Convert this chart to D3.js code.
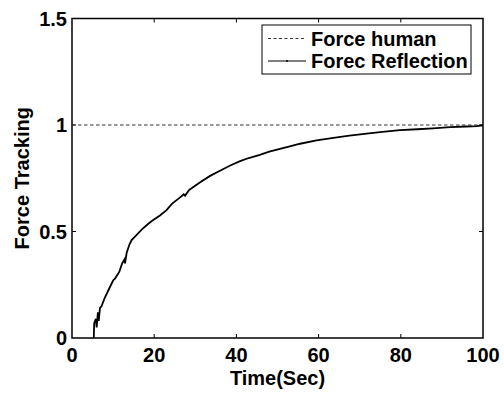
<!DOCTYPE html>
<html>
<head>
<meta charset="utf-8">
<script src="https://cdn.jsdelivr.net/npm/d3@7"></script>
<style>
  body { margin: 0; background: #fff; }
  text { font-family: Arial, "Liberation Sans", sans-serif; font-weight: bold; }
</style>
</head>
<body>
<div id="chart"></div>
<script>
// data
const timeSec = [5.3, 5.4, 5.8, 6.0, 6.3, 6.5, 6.8, 7.2, 8.0, 9.0, 10.0, 10.5, 11.5, 12.2, 12.8, 12.9, 13.3, 14.0,
  14.5, 15.5, 17.0, 18.5, 19.5, 21.4, 23.0, 24.3, 26.3, 27.2, 27.5, 28.5, 31.1, 33.5, 36.0, 38.5, 40.9, 43.0,
  45.7, 48.0, 50.6, 53.0, 55.5, 59.5, 63.6, 67.5, 71.7, 75.5, 79.8, 84.0, 87.8, 92.0, 96.0, 98.5, 100];
const forceReflection = [0.0, 0.07, 0.09, 0.05, 0.12, 0.08, 0.14, 0.15, 0.19, 0.23, 0.27, 0.28, 0.31, 0.35, 0.37, 0.35, 0.40, 0.44,
  0.46, 0.48, 0.51, 0.535, 0.55, 0.575, 0.60, 0.63, 0.66, 0.675, 0.668, 0.695, 0.73, 0.76, 0.785, 0.81, 0.83, 0.845,
  0.86, 0.875, 0.888, 0.90, 0.912, 0.928, 0.94, 0.95, 0.96, 0.968, 0.976, 0.98, 0.984, 0.99, 0.993, 0.995, 0.998];
const forceHuman = 1;
const xTicks = [0, 20, 40, 60, 80, 100];
const yTicks = [0, 0.5, 1, 1.5];
const legendLabels = ["Force human", "Forec Reflection"];

const width = 504, height = 397;
const margin = { left: 72, right: 21, top: 18.5, bottom: 59 };
const fontSize = "20px";

const svg = d3.select("#chart").append("svg")
  .attr("width", width)
  .attr("height", height);

const x = d3.scaleLinear().domain([0, 100]).range([margin.left, width - margin.right]);
const y = d3.scaleLinear().domain([0, 1.5]).range([height - margin.bottom, margin.top]);

// plot box
svg.append("rect")
  .attr("x", x(0)).attr("y", y(1.5))
  .attr("width", x(100) - x(0)).attr("height", y(0) - y(1.5))
  .attr("fill", "none").attr("stroke", "#000").attr("stroke-width", 1.5);

// inward ticks on all four sides
const tickLen = 4;
const tk = svg.append("g").attr("stroke", "#000").attr("stroke-width", 1);
xTicks.slice(1, -1).forEach(t => {
  tk.append("line").attr("x1", x(t)).attr("x2", x(t)).attr("y1", y(0)).attr("y2", y(0) - tickLen);
  tk.append("line").attr("x1", x(t)).attr("x2", x(t)).attr("y1", y(1.5)).attr("y2", y(1.5) + tickLen);
});
yTicks.slice(1, -1).forEach(t => {
  tk.append("line").attr("x1", x(0)).attr("x2", x(0) + tickLen).attr("y1", y(t)).attr("y2", y(t));
  tk.append("line").attr("x1", x(100)).attr("x2", x(100) - tickLen).attr("y1", y(t)).attr("y2", y(t));
});

// tick labels
svg.append("g").selectAll("text")
  .data(xTicks).enter().append("text")
  .attr("x", d => x(d))
  .attr("y", y(0) + 24)
  .attr("text-anchor", "middle")
  .attr("font-size", fontSize)
  .text(d => d);

svg.append("g").selectAll("text")
  .data(yTicks).enter().append("text")
  .attr("x", x(0) - 5)
  .attr("y", d => y(d))
  .attr("dy", "0.36em")
  .attr("text-anchor", "end")
  .attr("font-size", fontSize)
  .text(d => d);

// axis titles
svg.append("text")
  .attr("x", (x(0) + x(100)) / 2)
  .attr("y", 385)
  .attr("text-anchor", "middle")
  .attr("font-size", fontSize)
  .text("Time(Sec)");

svg.append("text")
  .attr("transform", `translate(29,${(y(0) + y(1.5)) / 2}) rotate(-90)`)
  .attr("text-anchor", "middle")
  .attr("font-size", fontSize)
  .text("Force Tracking");

// reference line
svg.append("line")
  .attr("x1", x(0)).attr("x2", x(100))
  .attr("y1", y(forceHuman)).attr("y2", y(forceHuman))
  .attr("stroke", "#333").attr("stroke-width", 1)
  .attr("stroke-dasharray", "3.5,2.5");

// measured curve
const line = d3.line()
  .x((d, i) => x(timeSec[i]))
  .y(d => y(d));

svg.append("path")
  .datum(forceReflection)
  .attr("d", line)
  .attr("fill", "none")
  .attr("stroke", "#000")
  .attr("stroke-width", 1.8);

// legend
const lg = svg.append("g");
lg.append("rect")
  .attr("x", 262).attr("y", 25)
  .attr("width", 209).attr("height", 49)
  .attr("fill", "#fff").attr("stroke", "#000").attr("stroke-width", 1);

const rows = [38.5, 61];
lg.append("line")
  .attr("x1", 268).attr("x2", 306).attr("y1", rows[0]).attr("y2", rows[0])
  .attr("stroke", "#333").attr("stroke-dasharray", "3,2.5");
lg.append("line")
  .attr("x1", 268).attr("x2", 306).attr("y1", rows[1]).attr("y2", rows[1])
  .attr("stroke", "#000").attr("stroke-width", 1.2);
lg.append("circle").attr("cx", 287).attr("cy", rows[1]).attr("r", 1).attr("fill", "#000");

lg.selectAll("text.lab")
  .data(legendLabels).enter().append("text")
  .attr("class", "lab")
  .attr("x", 311)
  .attr("y", (d, i) => rows[i] + 7)
  .attr("font-size", fontSize)
  .text(d => d);
</script>
</body>
</html>
